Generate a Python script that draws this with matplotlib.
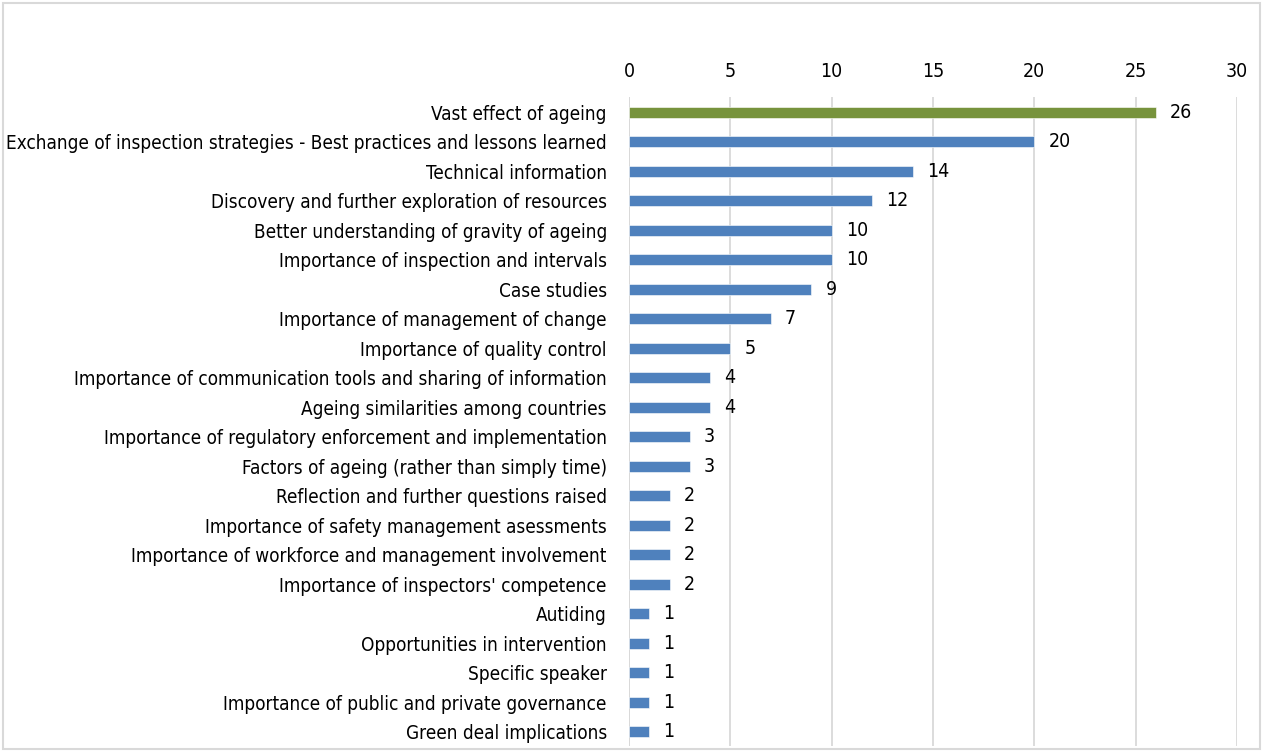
import matplotlib.pyplot as plt
from matplotlib.patches import Rectangle

plt.rcParams['font.family'] = ['DejaVu Sans']
plt.rcParams['font.stretch'] = 'condensed'

categories = [
    "Vast effect of ageing",
    "Exchange of inspection strategies - Best practices and lessons learned",
    "Technical information",
    "Discovery and further exploration of resources",
    "Better understanding of gravity of ageing",
    "Importance of inspection and intervals",
    "Case studies",
    "Importance of management of change",
    "Importance of quality control",
    "Importance of communication tools and sharing of information",
    "Ageing similarities among countries",
    "Importance of regulatory enforcement and implementation",
    "Factors of ageing (rather than simply time)",
    "Reflection and further questions raised",
    "Importance of safety management asessments",
    "Importance of workforce and management involvement",
    "Importance of inspectors' competence",
    "Autiding",
    "Opportunities in intervention",
    "Specific speaker",
    "Importance of public and private governance",
    "Green deal implications",
]
counts = [26, 20, 14, 12, 10, 10, 9, 7, 5, 4, 4, 3, 3, 2, 2, 2, 2, 1, 1, 1, 1, 1]

BLUE = "#4F81BD"
GREEN = "#77933C"
GRID = "#D9D9D9"

fig = plt.figure(figsize=(12.63, 7.51), dpi=100)
fig.patches.append(Rectangle((0.002, 0.002), 0.996, 0.994, transform=fig.transFigure,
                             fill=False, edgecolor=GRID, linewidth=1.5))
ax = fig.add_axes([0.498, 0.006, 0.4814, 0.8642])

n = len(categories)
ypos = list(range(n))
colors = [GREEN] + [BLUE] * (n - 1)
ax.barh(ypos, counts, height=0.38, color=colors, edgecolor="white", linewidth=0.4, zorder=3)

# value labels to the right of each bar
for y, v in zip(ypos, counts):
    ax.text(v + 0.7, y, str(v), va="center", ha="left", fontsize=14, color="black")

ax.set_ylim(n - 0.5, -0.5)
ax.set_xlim(0, 30)
ax.set_xticks(range(0, 31, 5))
ax.set_yticks(ypos)
ax.set_yticklabels(categories, fontsize=13.6)
ax.xaxis.tick_top()
ax.tick_params(axis="x", length=0, pad=12, labelsize=14)
ax.tick_params(axis="y", length=0, pad=16)
ax.grid(axis="x", color=GRID, linewidth=1.3, zorder=0)
for s in ax.spines.values():
    s.set_visible(False)
ax.axvline(0, color=GRID, linewidth=1.3, zorder=1)

fig.savefig("out.png", dpi=100)
